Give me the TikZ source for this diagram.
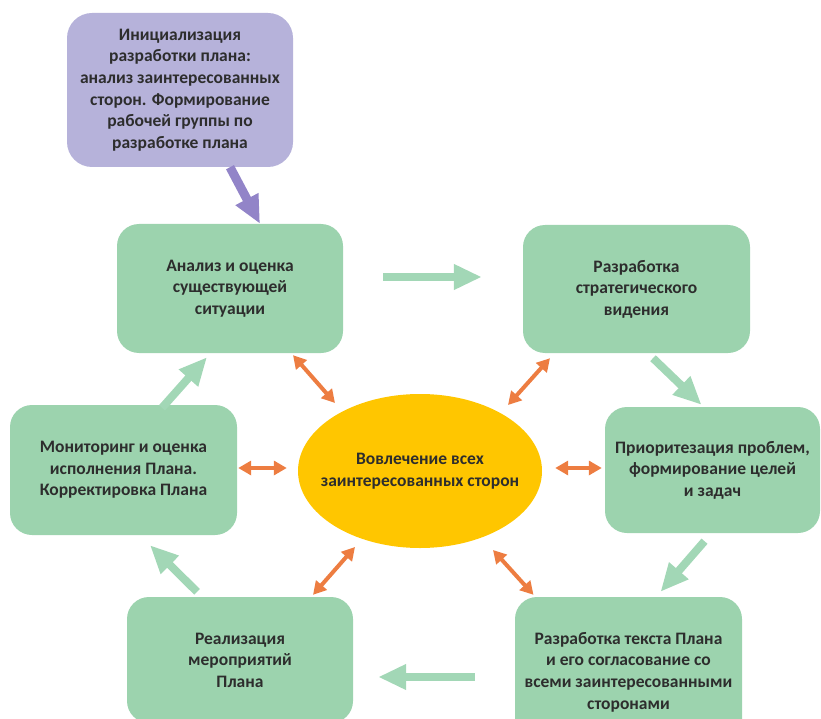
\documentclass[tikz,border=0pt]{standalone}
\usepackage{fontspec}
\setmainfont{Carlito}
\usepackage{tikz}
\usetikzlibrary{positioning,arrows.meta,shapes.geometric}

\definecolor{stagegreen}{RGB}{156,211,174}
\definecolor{flowgreen}{RGB}{162,215,182}
\definecolor{initpurple}{RGB}{182,178,218}
\definecolor{flowpurple}{RGB}{146,132,200}
\definecolor{coreyellow}{RGB}{255,198,0}
\definecolor{linkorange}{RGB}{237,125,65}
\definecolor{textgray}{RGB}{45,45,45}

\begin{document}
\begin{tikzpicture}[x=1pt,y=-1pt,
	stage/.style={rectangle,rounded corners=22pt,fill=stagegreen,inner sep=0pt,align=center,text=textgray,font=\bfseries\fontsize{17.5}{21.6}\selectfont},
	initbox/.style={stage,fill=initpurple,rounded corners=25pt},
	core/.style={ellipse,fill=coreyellow,inner sep=0pt,minimum width=244pt,minimum height=154pt},
	coretext/.style={align=center,text=textgray,font=\bfseries\fontsize{17.5}{21.6}\selectfont},
	flow/.style={line width=8pt,flowgreen,-{Triangle[length=28pt,width=24pt]}},
	initflow/.style={flow,flowpurple,line width=9pt},
	link/.style={line width=4pt,linkorange,{Triangle[length=13pt,width=14pt]}-{Triangle[length=13pt,width=14pt]}}]
	\useasboundingbox (0,0) rectangle (821,719);

	% start of the plan
	\node[initbox,minimum width=226pt,minimum height=154pt] (init) at (180,90)
		{Инициализация\\разработки плана:\\анализ заинтересованных\\сторон. Формирование\\рабочей группы по\\разработке плана};

	% cycle of stages
	\node[stage,minimum width=226pt,minimum height=129pt] (analiz) at (230,288.5)
		{Анализ и оценка\\существующей\\ситуации};
	\node[stage,minimum width=227pt,minimum height=128pt] (vision) at (636.5,289)
		{Разработка\\стратегического\\видения};
	\node[stage,minimum width=215pt,minimum height=126pt] (prior) at (712.5,470)
		{Приоритезация проблем,\\формирование целей\\и задач};
	\node[stage,minimum width=227pt,minimum height=150pt] (plantext) at (628.5,672)
		{Разработка текста Плана\\и его согласование со\\всеми заинтересованными\\сторонами};
	\node[stage,minimum width=226pt,minimum height=126pt] (impl) at (240,660)
		{Реализация\\мероприятий\\Плана};
	\node[stage,minimum width=227pt,minimum height=130pt] (monitor) at (123.5,470)
		{Мониторинг и оценка\\исполнения Плана.\\Корректировка Плана};

	% centre
	\node[core,label={[coretext]center:Вовлечение всех\\заинтересованных сторон}] (center) at (420,471) {};

	% green arrows
	\draw[initflow] ([xshift=50pt]init.south) -- ([xshift=30pt]analiz.north);
	\draw[flow] ([xshift=40pt,yshift=11.5pt]analiz.east) -- ([xshift=-41pt,yshift=12pt]vision.west);
	\draw[flow] ([xshift=16.5pt,yshift=-5pt]vision.south) -- ([xshift=-11pt,yshift=2pt]prior.north);
	\draw[flow] ([xshift=-8pt,yshift=-8pt]prior.south) -- ([xshift=32pt,yshift=5pt]plantext.north);
	\draw[flow] ([xshift=-40pt,yshift=-5pt]plantext.west) -- ([xshift=25pt,yshift=-17pt]impl.east);
	\draw[flow] ([xshift=-43pt,yshift=5pt]impl.north) -- ([xshift=26.5pt,yshift=-10pt]monitor.south);
	\draw[flow] ([xshift=38.5pt,yshift=-3pt]monitor.north) -- ([xshift=-23pt,yshift=-4pt]analiz.south);

	% orange links to the centre
	\draw[link] ([xshift=63pt,yshift=-2pt]analiz.south) -- ([xshift=-85pt,yshift=68pt]center.center);
	\draw[link] ([xshift=-86.5pt,yshift=-5pt]vision.south) -- ([xshift=88pt,yshift=66pt]center.center);
	\draw[link] ([xshift=1pt,yshift=2pt]monitor.east) -- ([xshift=-11pt,yshift=3pt]center.west);
	\draw[link] ([xshift=13pt,yshift=3pt]center.east) -- ([xshift=-3pt,yshift=2pt]prior.west);
	\draw[link] ([xshift=73pt,yshift=2pt]impl.north) -- ([xshift=-65pt,yshift=-76pt]center.center);
	\draw[link] ([xshift=73pt,yshift=-79pt]center.center) -- ([xshift=-95pt,yshift=2pt]plantext.north);
\end{tikzpicture}
\end{document}
